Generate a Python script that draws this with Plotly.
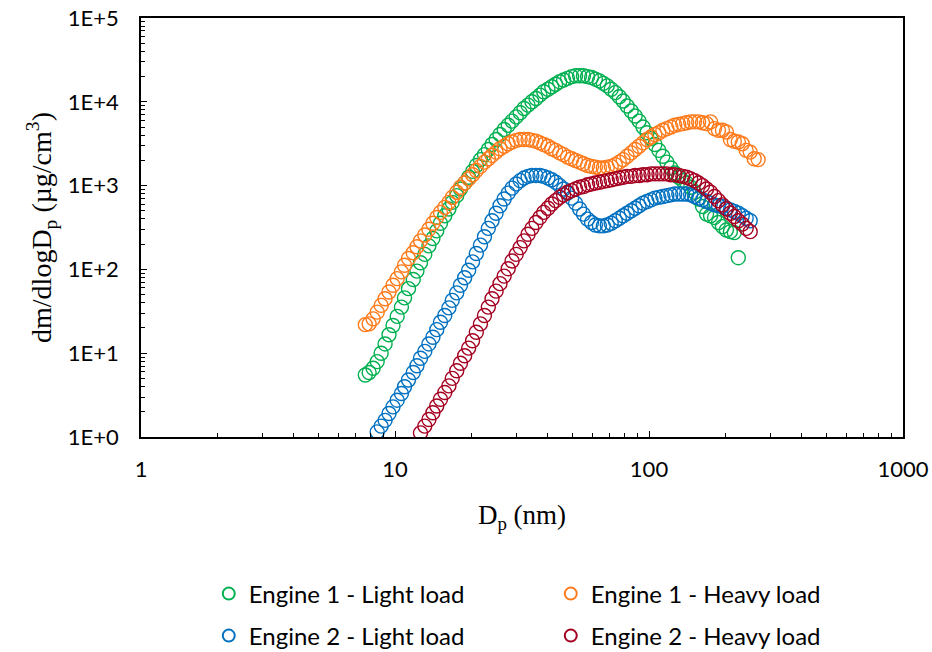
import plotly.graph_objects as go

# SMPS channel diameters (nm)
diam = [7.64, 7.91, 8.20, 8.51, 8.82, 9.14, 9.47, 9.82, 10.2, 10.6, 10.9, 11.3, 11.8, 12.2, 12.6,
        13.1, 13.6, 14.1, 14.6, 15.1, 15.7, 16.3, 16.8, 17.5, 18.1, 18.8, 19.5, 20.2, 20.9, 21.7,
        22.5, 23.3, 24.1, 25.0, 25.9, 26.9, 27.9, 28.9, 30.0, 31.1, 32.2, 33.4, 34.6, 35.9, 37.2,
        38.5, 40.0, 41.4, 42.9, 44.5, 46.1, 47.8, 49.6, 51.4, 53.3, 55.2, 57.3, 59.4, 61.5, 63.8,
        66.1, 68.5, 71.0, 73.7, 76.4, 79.1, 82.0, 85.1, 88.2, 91.4, 94.7, 98.2, 101.8, 105.5, 109.4,
        113.4, 117.6, 121.9, 126.3, 131.0, 135.8, 140.7, 145.9, 151.2, 156.8, 162.5, 168.5, 174.7,
        181.1, 187.7, 194.6, 201.7, 209.1, 216.7, 224.7, 232.9, 241.4, 250.3, 259.5, 269.0, 278.8]

e1_light = [5.50, 5.89, 6.61, 7.94, 10.0, 12.9, 16.6, 21.4, 27.5, 35.5, 45.7, 58.9, 75.9, 95.5, 120,
            151, 191, 234, 288, 355, 437, 525, 631, 759, 912, 1072, 1259, 1479, 1738, 2042,
            2344, 2692, 3090, 3548, 4074, 4677, 5248, 5888, 6607, 7413, 8318, 9120, 10000, 10960, 12020,
            13180, 14130, 15140, 16220, 17380, 18200, 19050, 19950, 20420, 20420, 20420, 19950, 19500, 18620, 17780,
            16600, 15490, 14130, 12880, 11480, 10230, 8913, 7762, 6761, 5888, 5012, 4266, 3631, 3090, 2630,
            2239, 1905, 1622, 1413, 1259, 1148, 1072, 955, 832, 692, 562, 457, 437,
            417, 363, 324, 295, 282, 275, 138]

e1_heavy = [21.9, 22.4, 25.7, 30.9, 37.2, 44.7, 53.7, 64.6, 77.6, 93.3, 112, 135, 158, 186, 219,
            257, 302, 355, 417, 479, 550, 631, 724, 832, 955, 1072, 1202, 1349, 1514, 1698,
            1905, 2089, 2291, 2512, 2754, 2951, 3162, 3311, 3467, 3548, 3548, 3548, 3467, 3388, 3236,
            3090, 2951, 2754, 2630, 2455, 2344, 2188, 2089, 1995, 1905, 1820, 1738, 1698, 1660, 1622,
            1622, 1660, 1698, 1778, 1905, 2042, 2239, 2455, 2692, 2951, 3236, 3548, 3802, 4074, 4266,
            4571, 4786, 5012, 5248, 5370, 5495, 5623, 5754, 5754, 5754, 5623, 5495, 5754,
            4786, 4571, 4571, 4365, 3548, 3388, 3311, 3162, 2630, 2512, 2089, 2042]

e2_light = [1.15, 1.35, 1.58, 1.91, 2.29, 2.75, 3.31, 3.98, 4.79, 5.89, 7.08, 8.71,
            10.5, 12.9, 15.5, 19.1, 23.4, 28.2, 34.7, 42.7, 52.5, 64.6, 79.4, 97.7, 123, 155, 195,
            245, 309, 380, 468, 575, 692, 813, 933, 1047, 1148, 1230, 1288, 1318, 1318, 1318, 1288,
            1230, 1175, 1096, 1000, 912, 813, 708, 617, 525, 457, 398, 363, 339, 331, 331,
            339, 355, 380, 407, 437, 468, 501, 537, 575, 617, 646, 676, 708, 724, 741, 759,
            776, 794, 794, 794, 794, 776, 741, 708, 676, 646, 617, 589, 575, 562, 537, 513,
            490, 468, 437, 407, 380]

e2_heavy = [1.12, 1.35, 1.62, 1.95, 2.34, 2.82, 3.39, 4.07, 5.01, 6.17, 7.59, 9.33, 11.5,
            14.1, 17.8, 22.4, 28.2, 35.5, 44.7, 55.0, 67.6, 83.2, 102, 126, 151, 182, 219, 263,
            309, 363, 417, 479, 537, 603, 661, 724, 776, 832, 871, 912, 955, 977, 1023, 1047,
            1072, 1096, 1122, 1148, 1175, 1202, 1230, 1259, 1288, 1288, 1318, 1318, 1349, 1349,
            1380, 1380, 1380, 1380, 1380, 1349, 1349, 1318, 1288, 1259, 1202, 1148, 1072, 1000,
            912, 832, 741, 661, 589, 525, 468, 427, 380, 347, 309, 282]

start_idx = {"e1_light": 0, "e1_heavy": 0, "e2_light": 3, "e2_heavy": 14}

names = ["Engine 1 - Light load", "Engine 1 - Heavy load", "Engine 2 - Light load", "Engine 2 - Heavy load"]
colors = ["#00B050", "#FF7A1A", "#0070C0", "#A50021"]
legend_ids = ["legend", "legend", "legend2", "legend2"]
series = [("e1_light", e1_light), ("e1_heavy", e1_heavy), ("e2_light", e2_light), ("e2_heavy", e2_heavy)]

x_tickvals = [1, 10, 100, 1000]
x_ticktext = ["1", "10", "100", "1000"]
y_tickvals = [1, 10, 100, 1000, 10000, 100000]
y_ticktext = ["1E+0", "1E+1", "1E+2", "1E+3", "1E+4", "1E+5"]

fig = go.Figure()
for (key, vals), name, col, lg in zip(series, names, colors, legend_ids):
    s = start_idx[key]
    fig.add_trace(go.Scatter(
        x=diam[s:s + len(vals)], y=vals, mode="markers", name=name, legend=lg,
        marker=dict(symbol="circle-open", size=14, color=col, line=dict(width=1.4, color=col)),
    ))

sans = "Lato, Open Sans, sans-serif"
serif = "Liberation Serif, Times New Roman, serif"

axis_common = dict(
    type="log", showline=True, linecolor="black", linewidth=1.5, mirror=True,
    ticks="inside", ticklen=6, tickwidth=1, tickcolor="black", showgrid=False, zeroline=False,
    tickmode="array", automargin=False,
    minor=dict(ticks="inside", ticklen=4, tickwidth=1, tickcolor="black", showgrid=False, dtick="D1"),
    tickfont=dict(family=sans, size=22, color="black"),
)

legend_common = dict(orientation="h", xanchor="left", yanchor="middle",
                     xref="container", yref="container",
                     entrywidth=297, entrywidthmode="pixels", itemwidth=30,
                     font=dict(family=sans, size=24, color="black"),
                     bgcolor="rgba(0,0,0,0)", itemsizing="constant")

fig.update_layout(
    width=932, height=652,
    margin=dict(l=141, r=29, t=18, b=215, autoexpand=False),
    plot_bgcolor="white", paper_bgcolor="white",
    xaxis=dict(axis_common, range=[0, 3], tickvals=x_tickvals, ticktext=x_ticktext, ticklabelstandoff=12,
               title=dict(text="D<sub>p</sub> (nm)", font=dict(family=serif, size=27, color="black"), standoff=24)),
    yaxis=dict(axis_common, range=[0, 5], tickvals=y_tickvals, ticktext=y_ticktext, ticklabelstandoff=16,
               title=dict(text="\u2003\u2003dm/dlogD<sub>p</sub> (µg/cm<sup>3</sup>)",
                          font=dict(family=serif, size=28, color="black"), standoff=8)),
    legend=dict(legend_common, x=0.224, y=1 - 594 / 652),
    legend2=dict(legend_common, x=0.224, y=1 - 636 / 652),
    showlegend=True,
)

fig.write_html("out.html")
